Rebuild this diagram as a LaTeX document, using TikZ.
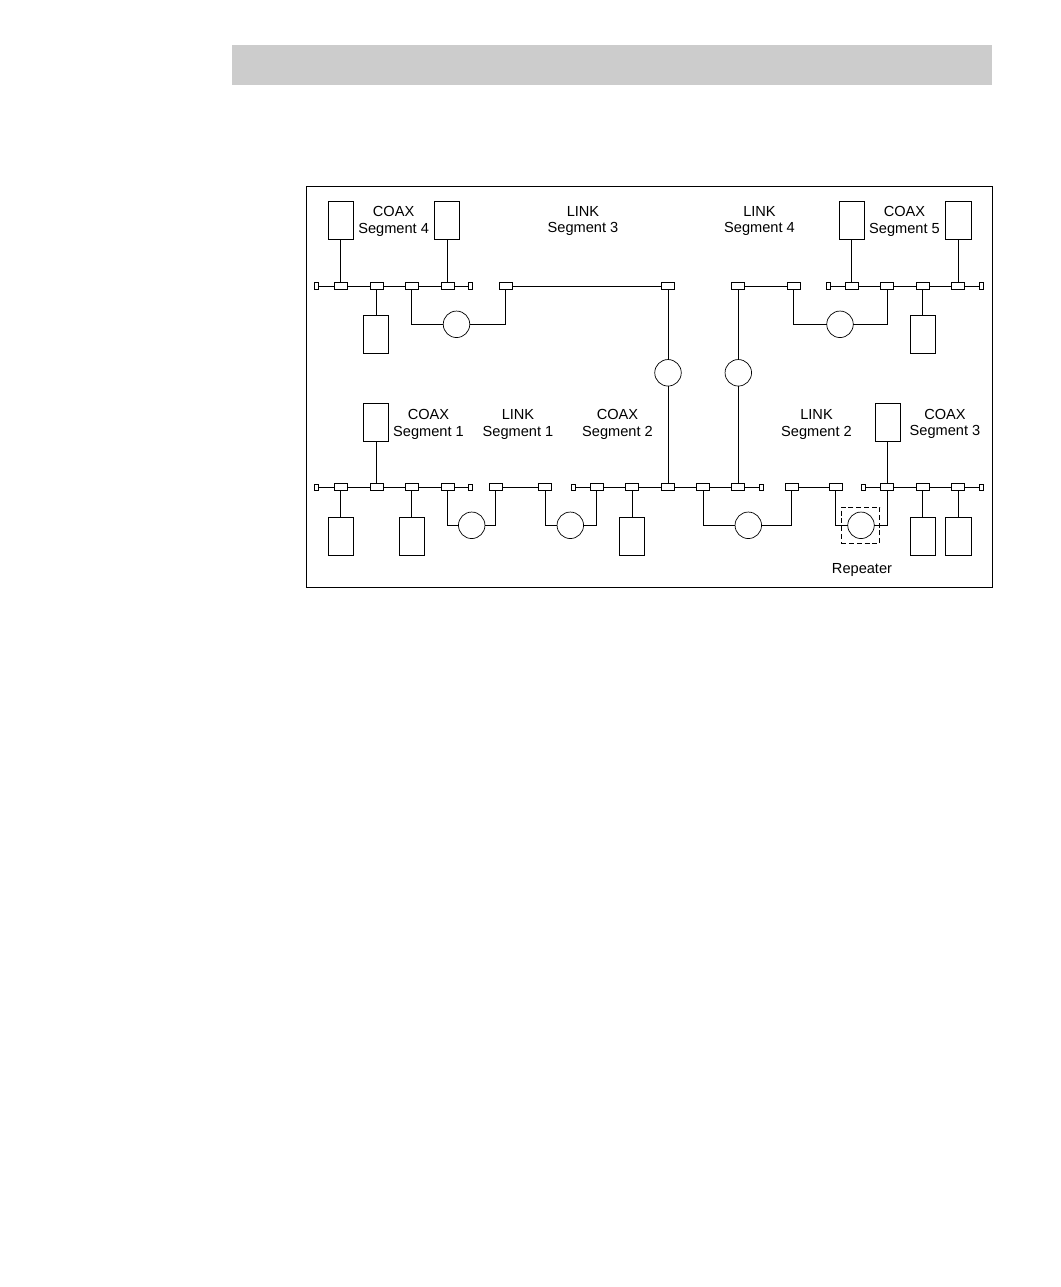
\documentclass[tikz,border=0pt]{standalone}
\usepackage{fontspec}
\setmainfont{Liberation Sans}
\tikzset{
  every node/.style={inner sep=0pt,outer sep=0pt},
  tap/.style={draw,fill=white,line width=0.85pt,minimum width=13pt,minimum height=7pt},
  endcap/.style={draw,fill=white,line width=0.85pt,minimum width=4pt,minimum height=6.5pt},
  station/.style={draw,line width=1pt,minimum width=25.5pt,minimum height=38pt},
  repeaterc/.style={draw,circle,line width=0.7pt,minimum size=26.5pt},
  wire/.style={line width=1pt},
  lab/.style={align=center,font=\fontsize{14.6}{16.8}\selectfont,text=black},
}
\begin{document}
\begin{tikzpicture}[x=1pt,y=-1pt]
\useasboundingbox (0,0) rectangle (1060,1287);
\fill[white] (0,0) rectangle (1060,1287);
\node[fill=black!20,minimum width=760pt,minimum height=40pt,anchor=north west] (band) at (232,45) {};
\node[draw,line width=1pt,minimum width=686.5pt,minimum height=401pt,anchor=north west] (frame) at (306,186) {};

% top row taps
\foreach \n/\x in {a/340.5,b/376.5,c/411.5,d/447.5,e/505.5,f/668,g/738.3,h/793.7,i/851.5,j/887.3,k/922.7,l/958.3}
  \node[tap] (T\n) at (\x,286) {};
\foreach \n/\x in {a/316.8,b/470.5,c/828,d/981}
  \node[endcap] (TE\n) at (\x,286) {};
% bottom row taps
\foreach \n/\x in {a/340.5,b/376.5,c/411.5,d/447.5,e/495.5,f/545,g/596.7,h/632,i/668,j/703.3,k/738.3,l/791.7,m/835.7,n/887.3,o/922.7,p/958.3}
  \node[tap] (B\n) at (\x,487.3) {};
\foreach \n/\x in {a/316.8,b/470.5,c/573.5,d/761.5,e/863.7,f/981}
  \node[endcap] (BE\n) at (\x,487.3) {};

% stations
\foreach \n/\x/\y in {s1/340.9/220.5,s2/447/220.5,s3/376/334.5,s4/852/220.5,s5/958.5/220.5,s6/923/334.5,
  s7/376/422,s8/888/422,s9/340.9/536,s10/412/536,s11/632/536,s12/923/536,s13/958.5/536}
  \node[station] (\n) at (\x,\y) {};

% repeaters
\node[repeaterc] (r1) at (456.5,324.3) {};
\node[repeaterc] (r2) at (840,324.3) {};
\node[repeaterc] (r3) at (668,372.8) {};
\node[repeaterc] (r4) at (738.3,372.8) {};
\node[repeaterc] (r5) at (471.7,525.3) {};
\node[repeaterc] (r6) at (570.3,525.3) {};
\node[repeaterc] (r7) at (748.3,525.3) {};
\node[repeaterc] (r8) at (861,525.3) {};
\node[draw,line width=0.8pt,minimum width=38.5pt,minimum height=36.5pt,dash pattern=on 5pt off 2.8pt] (rbox) at (860.5,525.4) {};

% bus segments
\draw[wire] (TEa)--(Ta) (Ta)--(Tb) (Tb)--(Tc) (Tc)--(Td) (Td)--(TEb);
\draw[wire] (Te)--(Tf) (Tg)--(Th);
\draw[wire] (TEc)--(Ti) (Ti)--(Tj) (Tj)--(Tk) (Tk)--(Tl) (Tl)--(TEd);
\draw[wire] (BEa)--(Ba) (Ba)--(Bb) (Bb)--(Bc) (Bc)--(Bd) (Bd)--(BEb);
\draw[wire] (Be)--(Bf);
\draw[wire] (BEc)--(Bg) (Bg)--(Bh) (Bh)--(Bi) (Bi)--(Bj) (Bj)--(Bk) (Bk)--(BEd);
\draw[wire] (Bl)--(Bm);
\draw[wire] (BEe)--(Bn) (Bn)--(Bo) (Bo)--(Bp) (Bp)--(BEf);

% station drops
\draw[wire] (s1.south-|Ta)--(Ta) (s2.south-|Td)--(Td) (Tb)--(s3.north-|Tb);
\draw[wire] (s4.south-|Ti)--(Ti) (s5.south-|Tl)--(Tl) (Tk)--(s6.north-|Tk);
\draw[wire] (s7.south-|Bb)--(Bb) (s8.south-|Bn)--(Bn);
\draw[wire] (Ba)--(s9.north-|Ba) (Bc)--(s10.north-|Bc) (Bh)--(s11.north-|Bh) (Bo)--(s12.north-|Bo) (Bp)--(s13.north-|Bp);

% repeater connections
\draw[wire] (Tc) |- (r1) (Te) |- (r1);
\draw[wire] (Th) |- (r2) (Tj) |- (r2);
\draw[wire] (Tf)--(r3) (r3)--(Bi);
\draw[wire] (Tg)--(r4) (r4)--(Bk);
\draw[wire] (Bd) |- (r5) (Be) |- (r5);
\draw[wire] (Bf) |- (r6) (Bg) |- (r6);
\draw[wire] (Bj) |- (r7) (Bl) |- (r7);
\draw[wire] (Bm) |- (r8) (Bn) |- (r8);

% labels
\node[lab] (l1) at (393.6,221.5) {COAX\\Segment 4};
\node[lab] (l2) at (583,221) {LINK\\Segment 3};
\node[lab] (l3) at (759.5,221) {LINK\\Segment 4};
\node[lab] (l4) at (904.5,221.5) {COAX\\Segment 5};
\node[lab] (l5) at (428.5,424.5) {COAX\\Segment 1};
\node[lab] (l6) at (518,424.5) {LINK\\Segment 1};
\node[lab] (l7) at (617.5,424.5) {COAX\\Segment 2};
\node[lab] (l8) at (816.5,424.5) {LINK\\Segment 2};
\node[lab] (l9) at (945,424) {COAX\\Segment 3};
\node[lab] (l10) at (862,569.5) {Repeater};
\end{tikzpicture}
\end{document}
